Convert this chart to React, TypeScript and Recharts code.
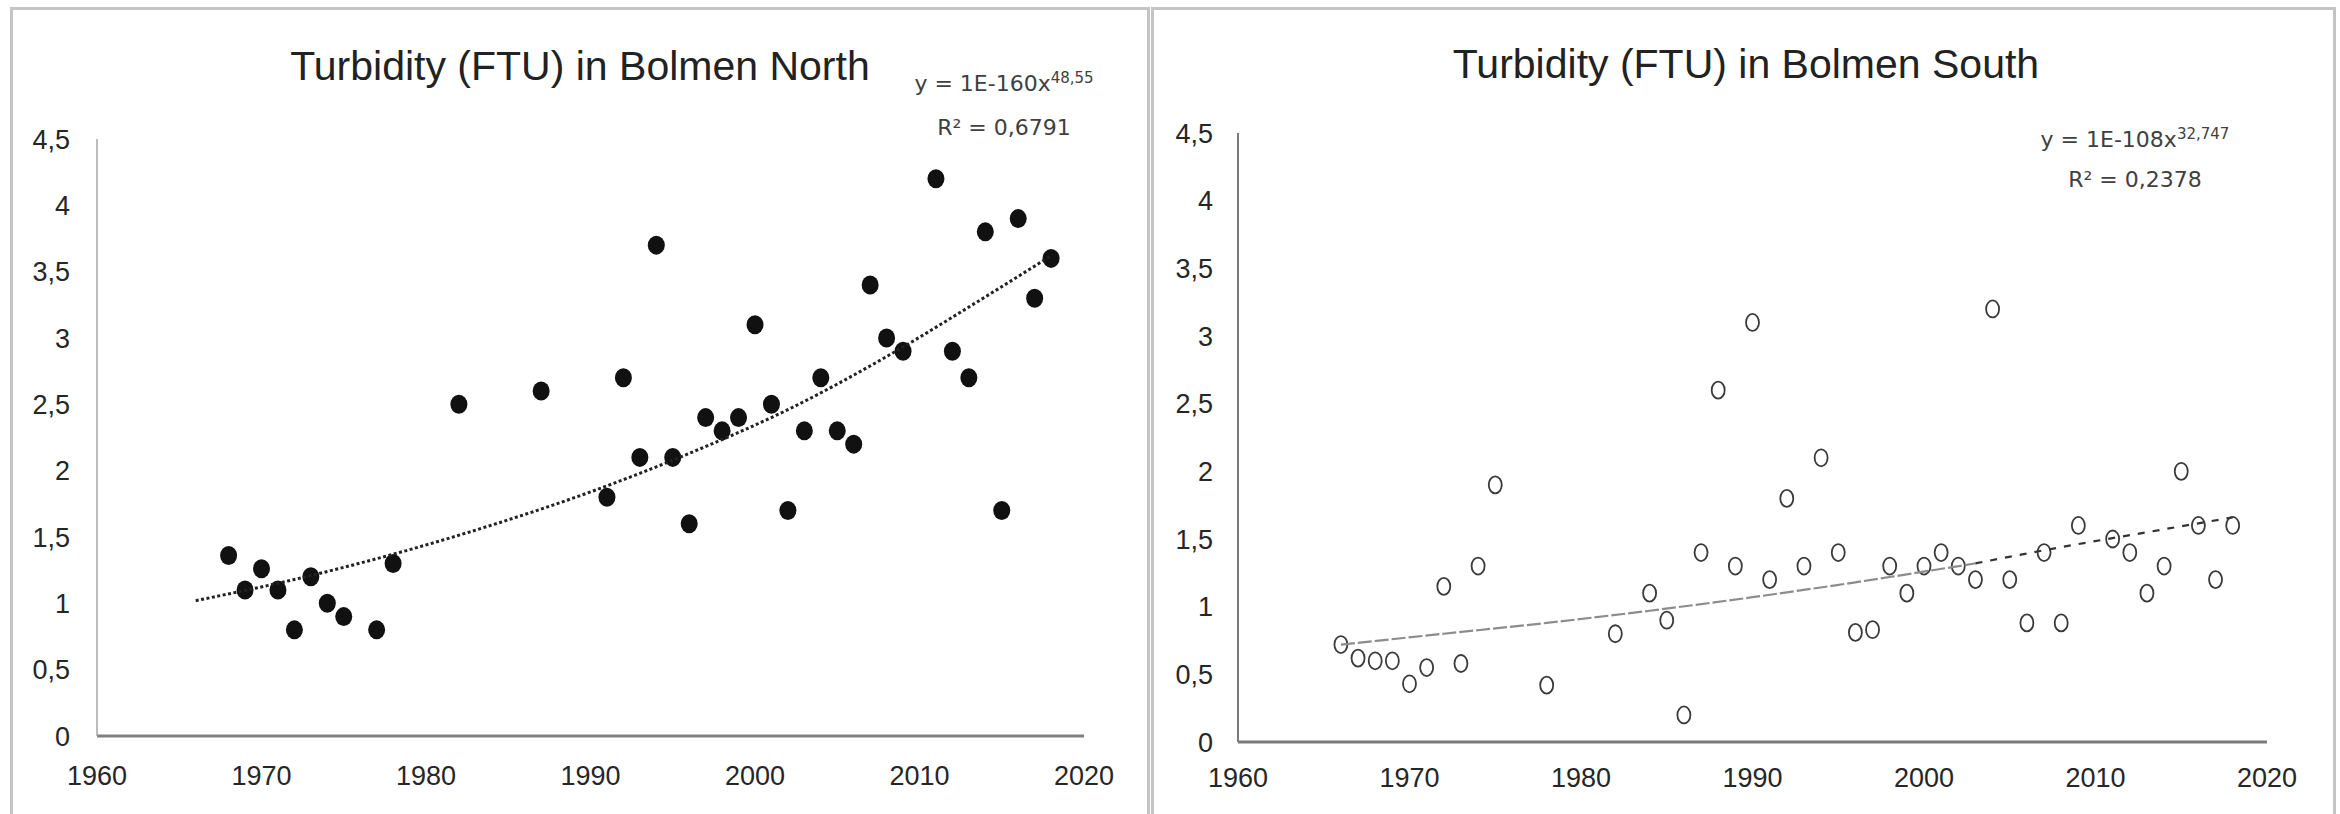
import { ScatterChart, Scatter, XAxis, YAxis } from "recharts";

// Bolmen North: yearly turbidity (FTU)
const northYears = [
  1968, 1969, 1970, 1971, 1972, 1973, 1974, 1975, 1977, 1978, 1982, 1987, 1991,
  1992, 1993, 1994, 1995, 1996, 1997, 1998, 1999, 2000, 2001, 2002, 2003, 2004,
  2005, 2006, 2007, 2008, 2009, 2011, 2012, 2013, 2014, 2015, 2016, 2017, 2018,
];
const northFtu = [
  1.36, 1.1, 1.26, 1.1, 0.8, 1.2, 1.0, 0.9, 0.8, 1.3, 2.5, 2.6, 1.8, 2.7, 2.1,
  3.7, 2.1, 1.6, 2.4, 2.3, 2.4, 3.1, 2.5, 1.7, 2.3, 2.7, 2.3, 2.2, 3.4, 3.0, 2.9,
  4.2, 2.9, 2.7, 3.8, 1.7, 3.9, 3.3, 3.6,
];

// Bolmen South: yearly turbidity (FTU)
const southYears = [
  1966, 1967, 1968, 1969, 1970, 1971, 1972, 1973, 1974, 1975, 1978, 1982, 1984,
  1985, 1986, 1987, 1988, 1989, 1990, 1991, 1992, 1993, 1994, 1995, 1996, 1997,
  1998, 1999, 2000, 2001, 2002, 2003, 2004, 2005, 2006, 2007, 2008, 2009, 2011,
  2012, 2013, 2014, 2015, 2016, 2017, 2018,
];
const southFtu = [
  0.72, 0.62, 0.6, 0.6, 0.43, 0.55, 1.15, 0.58, 1.3, 1.9, 0.42, 0.8, 1.1, 0.9,
  0.2, 1.4, 2.6, 1.3, 3.1, 1.2, 1.8, 1.3, 2.1, 1.4, 0.81, 0.83, 1.3, 1.1, 1.3,
  1.4, 1.3, 1.2, 3.2, 1.2, 0.88, 1.4, 0.88, 1.6, 1.5, 1.4, 1.1, 1.3, 2.0, 1.6,
  1.2, 1.6,
];

// power trendlines
const northTrendYears = [1966, 1972, 1978, 1984, 1990, 1996, 2002, 2008, 2014, 2018];
const northTrendFtu = [1.02, 1.18, 1.37, 1.59, 1.84, 2.13, 2.46, 2.86, 3.31, 3.62];
const southTrendYearsA = [1966, 1972, 1978, 1984, 1990, 1996, 2003];
const southTrendFtuA = [0.72, 0.8, 0.88, 0.97, 1.07, 1.18, 1.32];
const southTrendYearsB = [2003, 2008, 2013, 2018];
const southTrendFtuB = [1.32, 1.44, 1.55, 1.66];

const yearTicks = [1960, 1970, 1980, 1990, 2000, 2010, 2020];
const ftuTicks = [0, 0.5, 1, 1.5, 2, 2.5, 3, 3.5, 4, 4.5];

const zip = (xs: number[], ys: number[]) =>
  xs.map((year, i) => ({ year, ftu: ys[i] }));

const northPoints = zip(northYears, northFtu);
const southPoints = zip(southYears, southFtu);
const northTrend = zip(northTrendYears, northTrendFtu);
const southTrendA = zip(southTrendYearsA, southTrendFtuA);
const southTrendB = zip(southTrendYearsB, southTrendFtuB);

const FONT = "'Liberation Sans', Arial, sans-serif";
const EQ_FONT = "'DejaVu Sans', sans-serif";

function XTick({ x, y, payload }: any) {
  return (
    <text x={x} y={y} dy="0.71em" textAnchor="middle" fontSize={27} fontFamily={FONT} fill="#262626">
      {payload.value}
    </text>
  );
}

function YTick({ x, y, payload }: any) {
  return (
    <text x={x} y={y} dy="0.36em" textAnchor="end" fontSize={27} fontFamily={FONT} fill="#262626">
      {String(payload.value).replace(".", ",")}
    </text>
  );
}

const FilledDot = ({ cx, cy }: any) => (
  <ellipse cx={cx} cy={cy} rx={8.5} ry={9.5} fill="#111" />
);
const OpenDot = ({ cx, cy }: any) => (
  <ellipse cx={cx} cy={cy} rx={6.5} ry={8.5} fill="none" stroke="#3a3a3a" strokeWidth={1.8} />
);
const NoDot = () => <g />;

export default function App() {
  return (
    <div style={{ position: "fixed", left: 0, top: 0, width: 2340, height: 814, overflow: "hidden", background: "#fff" }}>
      <div style={{ position: "absolute", left: 10, top: 7, width: 1140, height: 820, boxSizing: "border-box", border: "3px solid #c4c4c4" }} />
      <div style={{ position: "absolute", left: 1151, top: 7, width: 1185, height: 820, boxSizing: "border-box", border: "3px solid #c4c4c4" }} />

      <div style={{ position: "absolute", left: 0, top: 0 }}>
        <ScatterChart width={1150} height={814} margin={{ top: 139, right: 66, bottom: 48, left: 37 }}>
          <XAxis
            type="number"
            dataKey="year"
            domain={[1960, 2020]}
            ticks={yearTicks}
            interval={0}
            tick={<XTick />}
            tickLine={false}
            tickSize={0}
            tickMargin={30}
            height={30}
            axisLine={{ stroke: "#808080", strokeWidth: 3 }}
          />
          <YAxis
            type="number"
            dataKey="ftu"
            domain={[0, 4.5]}
            ticks={ftuTicks}
            interval={0}
            tick={<YTick />}
            tickLine={false}
            tickSize={0}
            tickMargin={27}
            width={60}
            axisLine={{ stroke: "#a6a6a6", strokeWidth: 1.5 }}
          />
          <Scatter data={northPoints} shape={FilledDot} isAnimationActive={false} />
          <Scatter
            data={northTrend}
            shape={NoDot}
            line={{ stroke: "#222", strokeWidth: 3, strokeDasharray: "3 2.5" }}
            lineJointType="monotoneX"
            isAnimationActive={false}
          />
        </ScatterChart>
      </div>

      <div style={{ position: "absolute", left: 1150, top: 0 }}>
        <ScatterChart width={1190} height={814} margin={{ top: 133, right: 73, bottom: 42, left: 28 }}>
          <XAxis
            type="number"
            dataKey="year"
            domain={[1960, 2020]}
            ticks={yearTicks}
            interval={0}
            tick={<XTick />}
            tickLine={false}
            tickSize={0}
            tickMargin={26}
            height={30}
            axisLine={{ stroke: "#7a7a7a", strokeWidth: 3 }}
          />
          <YAxis
            type="number"
            dataKey="ftu"
            domain={[0, 4.5]}
            ticks={ftuTicks}
            interval={0}
            tick={<YTick />}
            tickLine={false}
            tickSize={0}
            tickMargin={25}
            width={60}
            axisLine={{ stroke: "#7a7a7a", strokeWidth: 2 }}
          />
          <Scatter data={southPoints} shape={OpenDot} isAnimationActive={false} />
          <Scatter
            data={southTrendA}
            shape={NoDot}
            line={{ stroke: "#8c8c8c", strokeWidth: 2.2, strokeDasharray: "14 3" }}
            lineJointType="monotoneX"
            isAnimationActive={false}
          />
          <Scatter
            data={southTrendB}
            shape={NoDot}
            line={{ stroke: "#333", strokeWidth: 2.2, strokeDasharray: "7 8" }}
            lineJointType="monotoneX"
            isAnimationActive={false}
          />
        </ScatterChart>
      </div>

      <svg width={2340} height={814} style={{ position: "absolute", left: 0, top: 0, pointerEvents: "none" }}>
        <g fontFamily={FONT} fontSize={41} fill="#222" textAnchor="middle">
          <text x={580} y={80}>Turbidity (FTU) in Bolmen North</text>
          <text x={1746} y={78}>Turbidity (FTU) in Bolmen South</text>
        </g>
        <g fontFamily={EQ_FONT} fontSize={22} fill="#404040" textAnchor="middle">
          <text x={1004} y={91}>
            y = 1E-160x<tspan fontSize={15} dy={-8}>48,55</tspan>
          </text>
          <text x={1004} y={135}>R² = 0,6791</text>
          <text x={2135} y={147}>
            y = 1E-108x<tspan fontSize={15} dy={-8}>32,747</tspan>
          </text>
          <text x={2135} y={187}>R² = 0,2378</text>
        </g>
      </svg>
    </div>
  );
}
